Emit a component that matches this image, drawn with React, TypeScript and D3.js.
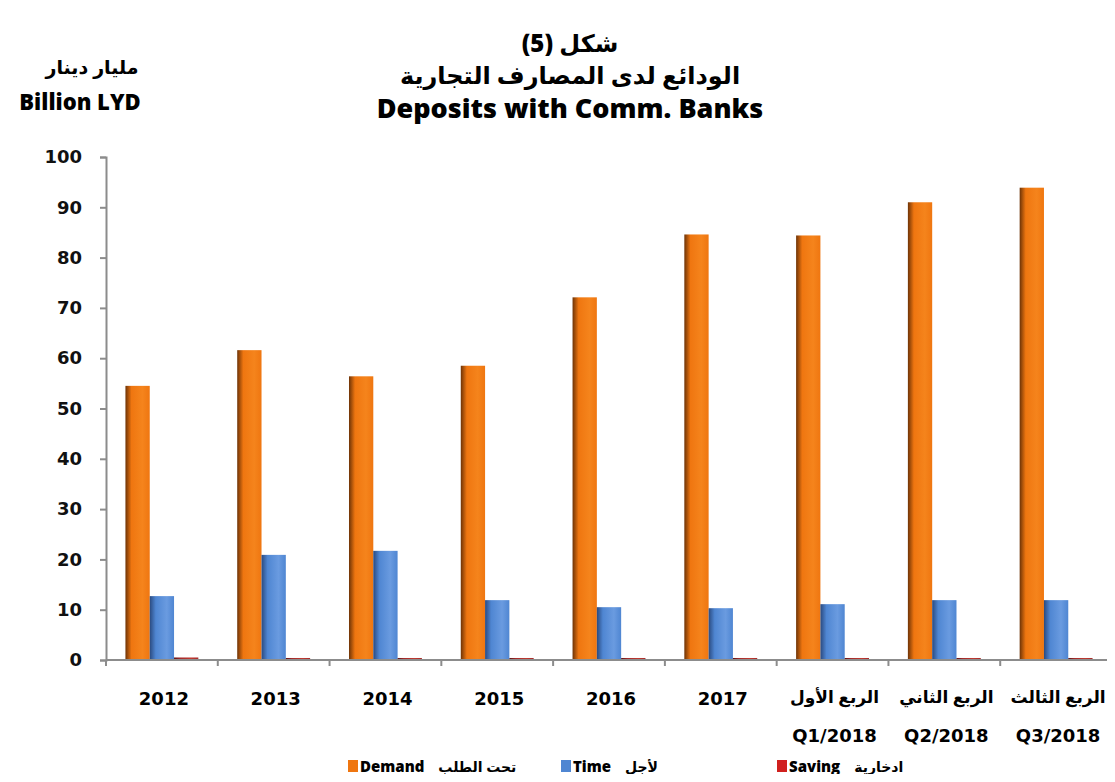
import React, { useEffect, useRef } from 'react';
import * as d3 from 'd3';

const categories = ['2012', '2013', '2014', '2015', '2016', '2017', 'Q1/2018', 'Q2/2018', 'Q3/2018'];
const categoryArabic = ['', '', '', '', '', '', 'الربع الأول', 'الربع الثاني', 'الربع الثالث'];
const demand = [54.5, 61.6, 56.4, 58.5, 72.1, 84.6, 84.4, 91.0, 93.9];
const time = [12.7, 20.9, 21.7, 11.9, 10.5, 10.3, 11.1, 11.9, 11.9];
const saving = [0.5, 0.4, 0.4, 0.4, 0.4, 0.4, 0.4, 0.4, 0.4];
const seriesNames = ['Demand', 'Time', 'Saving'];
const seriesArabic = ['تحت الطلب', 'لأجل', 'ادخارية'];
const yTicks = [0, 10, 20, 30, 40, 50, 60, 70, 80, 90, 100];

const FONT = "'Open Sans', 'DejaVu Sans', sans-serif";
const NUMFONT = "'DejaVu Sans', sans-serif";

const App = () => {
  const ref = useRef<HTMLDivElement>(null);

  useEffect(() => {
    const width = 1115;
    const height = 782;
    const left = 106, right = 1112, top = 157, bottom = 660;

    d3.select(ref.current).selectAll('*').remove();
    const svg = d3.select(ref.current)
      .append('svg')
      .attr('width', width)
      .attr('height', height)
      .style('display', 'block')
      .style('background', '#ffffff');

    // gradients for the shaded bar look
    const defs = svg.append('defs');
    const grads = [
      { id: 'gDemand', dark: '#6e3306', mid: '#ef7610', light: '#f5841c' },
      { id: 'gTime', dark: '#2a4a80', mid: '#4f86d2', light: '#6a9be0' },
      { id: 'gSaving', dark: '#5a1414', mid: '#a52a2a', light: '#c03a30' },
    ];
    grads.forEach(g => {
      const lg = defs.append('linearGradient').attr('id', g.id)
        .attr('x1', '0%').attr('x2', '100%').attr('y1', '0%').attr('y2', '0%');
      lg.append('stop').attr('offset', '0%').attr('stop-color', g.dark);
      lg.append('stop').attr('offset', '25%').attr('stop-color', g.mid);
      lg.append('stop').attr('offset', '70%').attr('stop-color', g.light);
      lg.append('stop').attr('offset', '100%').attr('stop-color', g.mid);
    });
    const fills = ['url(#gDemand)', 'url(#gTime)', 'url(#gSaving)'];
    const legendColors = ['#ef7610', '#4f86d2', '#d0201e'];

    // top strip
    svg.append('rect').attr('x', 0).attr('y', 0).attr('width', width).attr('height', 3)
      .attr('fill', '#f6c77a');

    // titles
    const title = (txt: string, yy: number, size: number) =>
      svg.append('text').attr('x', 570).attr('y', yy).attr('text-anchor', 'middle')
        .style('font-family', FONT).style('font-weight', 800).style('font-size', size + 'px')
        .text(txt);
    title('شكل (5)', 52, 24);
    title('الودائع لدى المصارف التجارية', 84, 24);
    title('Deposits with Comm. Banks', 118, 27);

    svg.append('text').attr('x', 92).attr('y', 74).attr('text-anchor', 'middle')
      .style('font-family', FONT).style('font-weight', 800).style('font-size', '19px')
      .text('مليار دينار');
    svg.append('text').attr('x', 80).attr('y', 110).attr('text-anchor', 'middle')
      .style('font-family', FONT).style('font-weight', 800).style('font-size', '22px')
      .text('Billion LYD');

    const x = d3.scaleBand().domain(categories).range([left, right]).padding(0);
    const y = d3.scaleLinear().domain([0, 100]).range([bottom, top]);
    const inner = d3.scaleBand().domain(seriesNames)
      .range([0, x.bandwidth()]).paddingOuter(0.8).paddingInner(0);

    // y axis
    const yAxis = svg.append('g').attr('transform', `translate(${left},0)`)
      .call(d3.axisLeft(y).tickValues(yTicks).tickSize(6).tickPadding(18));
    yAxis.select('.domain').attr('stroke', '#8c8c8c').attr('stroke-width', 2);
    yAxis.selectAll('.tick line').attr('stroke', '#8c8c8c').attr('stroke-width', 2);
    yAxis.selectAll('.tick text')
      .style('font-family', NUMFONT).style('font-weight', 700).style('font-size', '18px')
      .attr('fill', '#111');

    // bars
    const series = [demand, time, saving];
    series.forEach((vals, si) => {
      svg.append('g').selectAll('rect')
        .data(vals)
        .enter()
        .append('rect')
        .attr('x', (d, i) => (x(categories[i]) as number) + (inner(seriesNames[si]) as number))
        .attr('y', d => y(d))
        .attr('width', inner.bandwidth())
        .attr('height', d => bottom - y(d))
        .attr('fill', fills[si]);
    });

    // x axis
    const xAxis = svg.append('g').attr('transform', `translate(0,${bottom})`);
    xAxis.append('line').attr('x1', left).attr('x2', right).attr('y1', 0).attr('y2', 0)
      .attr('stroke', '#8c8c8c').attr('stroke-width', 2);
    xAxis.selectAll('line.tk')
      .data(categories.concat(['end']))
      .enter()
      .append('line')
      .attr('class', 'tk')
      .attr('x1', (d, i) => left + i * x.bandwidth())
      .attr('x2', (d, i) => left + i * x.bandwidth())
      .attr('y1', 0).attr('y2', 6)
      .attr('stroke', '#8c8c8c').attr('stroke-width', 2);

    categories.forEach((c, i) => {
      const cx = (x(c) as number) + x.bandwidth() / 2 + 2;
      if (categoryArabic[i]) {
        svg.append('text').attr('x', cx).attr('y', 703).attr('text-anchor', 'middle')
          .style('font-family', FONT).style('font-weight', 800).style('font-size', '17px')
          .text(categoryArabic[i]);
        svg.append('text').attr('x', cx).attr('y', 742).attr('text-anchor', 'middle')
          .style('font-family', NUMFONT).style('font-weight', 700).style('font-size', '18px')
          .text(c);
      } else {
        svg.append('text').attr('x', cx).attr('y', 705).attr('text-anchor', 'middle')
          .style('font-family', NUMFONT).style('font-weight', 700).style('font-size', '18px')
          .text(c);
      }
    });

    // legend
    const legendX = [348, 561, 777];
    seriesNames.forEach((s, i) => {
      const g = svg.append('g').attr('transform', `translate(${legendX[i]},772)`);
      g.append('rect').attr('x', 0).attr('y', -12).attr('width', 10).attr('height', 12)
        .attr('fill', legendColors[i]);
      const t = g.append('text').attr('x', 12).attr('y', 0)
        .style('font-family', FONT).style('font-weight', 800).style('font-size', '15px')
        .text(s);
      const w = (t.node() as SVGTextElement).getComputedTextLength();
      g.append('text').attr('x', 12 + w + 14).attr('y', 0)
        .style('font-family', FONT).style('font-weight', 800).style('font-size', '14px')
        .text(seriesArabic[i]);
    });
  }, []);

  return <div ref={ref} style={{ margin: -8 }}></div>;
};

export default App;
